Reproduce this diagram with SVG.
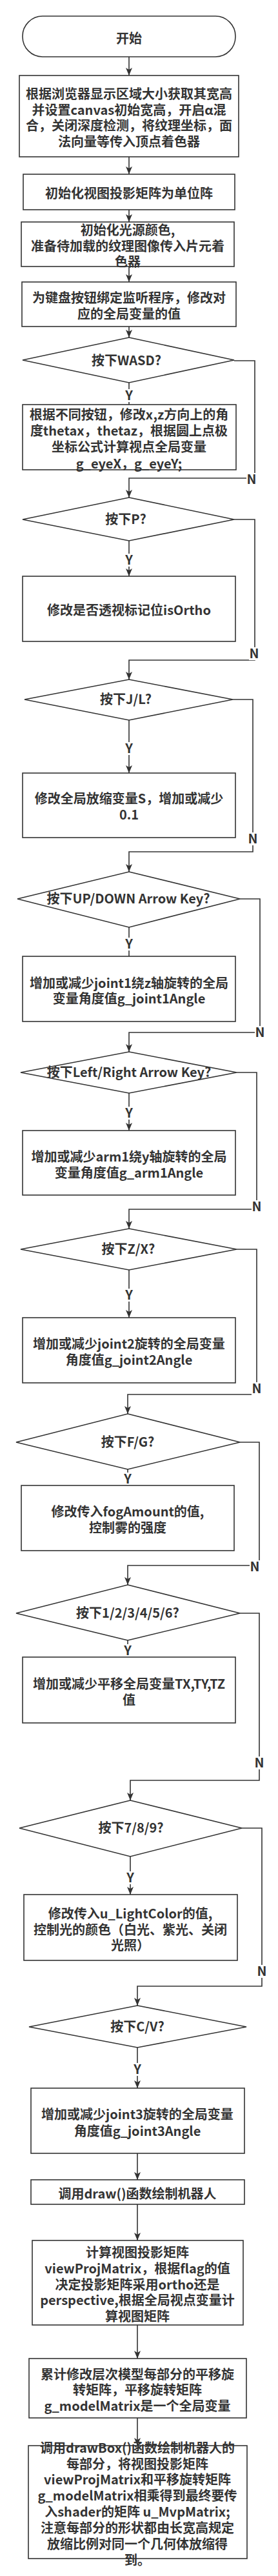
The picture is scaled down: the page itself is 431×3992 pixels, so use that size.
<svg xmlns="http://www.w3.org/2000/svg" width="431" height="3992" viewBox="0 0 431 3992">
<defs>
<style>
.n{fill:#fff;stroke:#333;stroke-width:1.6}
.t{font-family:"Noto Sans CJK SC","Noto Sans",sans-serif;font-weight:bold;font-size:20px;fill:#333;text-anchor:middle}
.c{fill:none;stroke:#333;stroke-width:1.6}
.lb{fill:#fff}
</style>
<marker id="ah" viewBox="0 0 12 10" markerWidth="12" markerHeight="10" markerUnits="userSpaceOnUse" refX="12" refY="5" orient="auto">
<path d="M0,0 L12,5 L0,10 L3,5 z" fill="#333"/>
</marker>
</defs>
<rect width="431" height="3992" fill="#fff"/>
<g id="connectors">
<path class="c" d="M200,88 V117" marker-end="url(#ah)"/>
<path class="c" d="M200,243 V270" marker-end="url(#ah)"/>
<path class="c" d="M200,325 V344" marker-end="url(#ah)"/>
<path class="c" d="M200,413 V437" marker-end="url(#ah)"/>
<path class="c" d="M200,506 V523" marker-end="url(#ah)"/>
<path class="c" d="M200,593 V627"/>
<path class="c" d="M363,559 H395 V741 H200 V771" marker-end="url(#ah)"/>
<path class="c" d="M200,838 V893" marker-end="url(#ah)"/>
<path class="c" d="M363,805 H395 V1023 H200 V1053" marker-end="url(#ah)"/>
<path class="c" d="M200,1116 V1198" marker-end="url(#ah)"/>
<path class="c" d="M361,1084 H392 V1320 H200 V1351" marker-end="url(#ah)"/>
<path class="c" d="M200,1437 V1482"/>
<path class="c" d="M372,1393 H403 V1600 H200 V1630" marker-end="url(#ah)"/>
<path class="c" d="M200,1694 V1752" marker-end="url(#ah)"/>
<path class="c" d="M367,1662 H398 V1874 H200 V1904" marker-end="url(#ah)"/>
<path class="c" d="M200,1968 V2042" marker-end="url(#ah)"/>
<path class="c" d="M367,1936 H398 V2161 H198 V2191" marker-end="url(#ah)"/>
<path class="c" d="M198,2277 V2302"/>
<path class="c" d="M372,2235 H402 V2426 H198 V2456" marker-end="url(#ah)"/>
<path class="c" d="M198,2542 V2568"/>
<path class="c" d="M372,2500 H402 V2759 H202 V2790" marker-end="url(#ah)"/>
<path class="c" d="M202,2877 V2936" marker-end="url(#ah)"/>
<path class="c" d="M375,2833 H406 V3078 H213 V3108" marker-end="url(#ah)"/>
<path class="c" d="M213,3173 V3236" marker-end="url(#ah)"/>
<path class="c" d="M213,3337 V3378" marker-end="url(#ah)"/>
<path class="c" d="M213,3416 V3472" marker-end="url(#ah)"/>
<path class="c" d="M213,3603 V3655" marker-end="url(#ah)"/>
<path class="c" d="M213,3747 V3790" marker-end="url(#ah)"/>
<g id="labels">
<rect class="lb" x="193" y="603" width="14" height="20"/><text class="t" x="200" y="620">Y</text>
<rect class="lb" x="382" y="733" width="16" height="20"/><text class="t" x="390" y="750">N</text>
<rect class="lb" x="193" y="858" width="14" height="20"/><text class="t" x="200" y="875">Y</text>
<rect class="lb" x="386" y="1003" width="16" height="20"/><text class="t" x="394" y="1020">N</text>
<rect class="lb" x="193" y="1150" width="14" height="20"/><text class="t" x="200" y="1167">Y</text>
<rect class="lb" x="384" y="1290" width="16" height="20"/><text class="t" x="392" y="1307">N</text>
<rect class="lb" x="193" y="1453" width="14" height="20"/><text class="t" x="200" y="1470">Y</text>
<rect class="lb" x="395" y="1590" width="16" height="20"/><text class="t" x="403" y="1607">N</text>
<rect class="lb" x="193" y="1715" width="14" height="20"/><text class="t" x="200" y="1732">Y</text>
<rect class="lb" x="390" y="1860" width="16" height="20"/><text class="t" x="398" y="1877">N</text>
<rect class="lb" x="193" y="1997" width="14" height="20"/><text class="t" x="200" y="2014">Y</text>
<rect class="lb" x="390" y="2142" width="16" height="20"/><text class="t" x="398" y="2159">N</text>
<rect class="lb" x="191" y="2282" width="14" height="20"/><text class="t" x="198" y="2299">Y</text>
<rect class="lb" x="387" y="2418" width="16" height="20"/><text class="t" x="395" y="2435">N</text>
<rect class="lb" x="191" y="2548" width="14" height="20"/><text class="t" x="198" y="2565">Y</text>
<rect class="lb" x="394" y="2722" width="16" height="20"/><text class="t" x="402" y="2739">N</text>
<rect class="lb" x="195" y="2900" width="14" height="20"/><text class="t" x="202" y="2917">Y</text>
<rect class="lb" x="398" y="3045" width="16" height="20"/><text class="t" x="406" y="3062">N</text>
<rect class="lb" x="206" y="3197" width="14" height="20"/><text class="t" x="213" y="3214">Y</text>
</g>
</g>
<g id="n_start"><rect class="n" x="35" y="25" width="330" height="63" rx="31" ry="31"/><text class="t" x="200" y="67">开始</text></g>
<g id="n_init"><rect class="n" x="30" y="117" width="340" height="126"/><text class="t"><tspan x="200" y="153">根据浏览器显示区域大小获取其宽高</tspan><tspan x="200" y="178">并设置canvas初始宽高，开启α混</tspan><tspan x="200" y="202">合，关闭深度检测，将纹理坐标，面</tspan><tspan x="200" y="227">法向量等传入顶点着色器</tspan></text></g>
<g id="n_matrix"><rect class="n" x="36" y="270" width="328" height="55"/><text class="t" x="200" y="307">初始化视图投影矩阵为单位阵</text></g>
<g id="n_light"><rect class="n" x="33" y="344" width="330" height="69"/><text class="t"><tspan x="198" y="364">初始化光源颜色,</tspan><tspan x="198" y="389">准备待加载的纹理图像传入片元着</tspan><tspan x="198" y="413">色器</tspan></text></g>
<g id="n_key"><rect class="n" x="34" y="437" width="332" height="69"/><text class="t"><tspan x="200" y="469">为键盘按钮绑定监听程序，修改对</tspan><tspan x="200" y="494">应的全局变量的值</tspan></text></g>
<g id="d_wasd"><polygon class="n" points="200,523 363,558 200,593 35,558"/><text class="t" x="196" y="566">按下WASD?</text></g>
<g id="n_wasd"><rect class="n" x="35" y="627" width="331" height="101"/><text class="t"><tspan x="200" y="650">根据不同按钮，修改x,z方向上的角</tspan><tspan x="200" y="675">度thetax，thetaz，根据圆上点极</tspan><tspan x="200" y="700">坐标公式计算视点全局变量</tspan><tspan x="200" y="726">g_eyeX，g_eyeY;</tspan></text></g>
<g id="d_p"><polygon class="n" points="200,771 363,805 200,838 35,805"/><text class="t" x="195" y="812">按下P?</text></g>
<g id="n_p"><rect class="n" x="35" y="893" width="330" height="101"/><text class="t" x="200" y="953">修改是否透视标记位isOrtho</text></g>
<g id="d_jl"><polygon class="n" points="200,1053 361,1084 200,1116 38,1084"/><text class="t" x="195" y="1091">按下J/L?</text></g>
<g id="n_jl"><rect class="n" x="35" y="1198" width="330" height="100"/><text class="t"><tspan x="200" y="1245">修改全局放缩变量S，增加或减少</tspan><tspan x="200" y="1270">0.1</tspan></text></g>
<g id="d_ud"><polygon class="n" points="200,1351 372,1393 200,1437 27,1393"/><text class="t" x="199" y="1400">按下UP/DOWN Arrow Key?</text></g>
<g id="n_ud"><rect class="n" x="35" y="1482" width="330" height="101"/><text class="t"><tspan x="200" y="1531">增加或减少joint1绕z轴旋转的全局</tspan><tspan x="200" y="1555">变量角度值g_joint1Angle</tspan></text></g>
<g id="d_lr"><polygon class="n" points="200,1630 367,1662 200,1694 32,1662"/><text class="t" x="200" y="1669">按下Left/Right Arrow Key?</text></g>
<g id="n_lr"><rect class="n" x="35" y="1752" width="330" height="100"/><text class="t"><tspan x="200" y="1800">增加或减少arm1绕y轴旋转的全局</tspan><tspan x="200" y="1825">变量角度值g_arm1Angle</tspan></text></g>
<g id="d_zx"><polygon class="n" points="200,1904 367,1936 200,1968 32,1936"/><text class="t" x="199" y="1943">按下Z/X?</text></g>
<g id="n_zx"><rect class="n" x="35" y="2042" width="330" height="101"/><text class="t"><tspan x="200" y="2090">增加或减少joint2旋转的全局变量</tspan><tspan x="200" y="2115">角度值g_joint2Angle</tspan></text></g>
<g id="d_fg"><polygon class="n" points="198,2191 372,2235 198,2277 25,2235"/><text class="t" x="198" y="2242">按下F/G?</text></g>
<g id="n_fg"><rect class="n" x="33" y="2302" width="330" height="101"/><text class="t"><tspan x="198" y="2350">修改传入fogAmount的值,</tspan><tspan x="198" y="2375">控制雾的强度</tspan></text></g>
<g id="d_16"><polygon class="n" points="198,2456 372,2500 198,2542 25,2500"/><text class="t" x="198" y="2507">按下1/2/3/4/5/6?</text></g>
<g id="n_16"><rect class="n" x="35" y="2568" width="330" height="102"/><text class="t"><tspan x="200" y="2617">增加或减少平移全局变量TX,TY,TZ</tspan><tspan x="200" y="2642">值</tspan></text></g>
<g id="d_789"><polygon class="n" points="202,2790 375,2833 202,2877 30,2833"/><text class="t" x="203" y="2840">按下7/8/9?</text></g>
<g id="n_789"><rect class="n" x="37" y="2936" width="331" height="102"/><text class="t"><tspan x="202" y="2973">修改传入u_LightColor的值,</tspan><tspan x="202" y="2998">控制光的颜色（白光、紫光、关闭</tspan><tspan x="202" y="3022">光照）</tspan></text></g>
<g id="d_cv"><polygon class="n" points="213,3108 382,3141 213,3173 45,3141"/><text class="t" x="213" y="3148">按下C/V?</text></g>
<g id="n_cv"><rect class="n" x="48" y="3236" width="331" height="101"/><text class="t"><tspan x="213" y="3284">增加或减少joint3旋转的全局变量</tspan><tspan x="213" y="3310">角度值g_joint3Angle</tspan></text></g>
<g id="n_draw"><rect class="n" x="48" y="3378" width="331" height="38"/><text class="t" x="213" y="3407">调用draw()函数绘制机器人</text></g>
<g id="n_calc"><rect class="n" x="50" y="3472" width="327" height="131"/><text class="t"><tspan x="213" y="3498">计算视图投影矩阵</tspan><tspan x="213" y="3523">viewProjMatrix，根据flag的值</tspan><tspan x="213" y="3548">决定投影矩阵采用ortho还是</tspan><tspan x="213" y="3572">perspective,根据全局视点变量计</tspan><tspan x="213" y="3597">算视图矩阵</tspan></text></g>
<g id="n_model"><rect class="n" x="45" y="3655" width="337" height="92"/><text class="t"><tspan x="213" y="3687">累计修改层次模型每部分的平移旋</tspan><tspan x="213" y="3711">转矩阵，平移旋转矩阵</tspan><tspan x="213" y="3736">g_modelMatrix是一个全局变量</tspan></text></g>
<g id="n_drawbox"><rect class="n" x="44" y="3790" width="339" height="175"/><text class="t"><tspan x="213" y="3801">调用drawBox()函数绘制机器人的</tspan><tspan x="213" y="3826">每部分，将视图投影矩阵</tspan><tspan x="213" y="3850">viewProjMatrix和平移旋转矩阵</tspan><tspan x="213" y="3875">g_modelMatrix相乘得到最终要传</tspan><tspan x="213" y="3900">入shader的矩阵 u_MvpMatrix;</tspan><tspan x="213" y="3925">注意每部分的形状都由长宽高规定</tspan><tspan x="213" y="3950">放缩比例对同一个几何体放缩得</tspan><tspan x="213" y="3975">到。</tspan></text></g>
</svg>
